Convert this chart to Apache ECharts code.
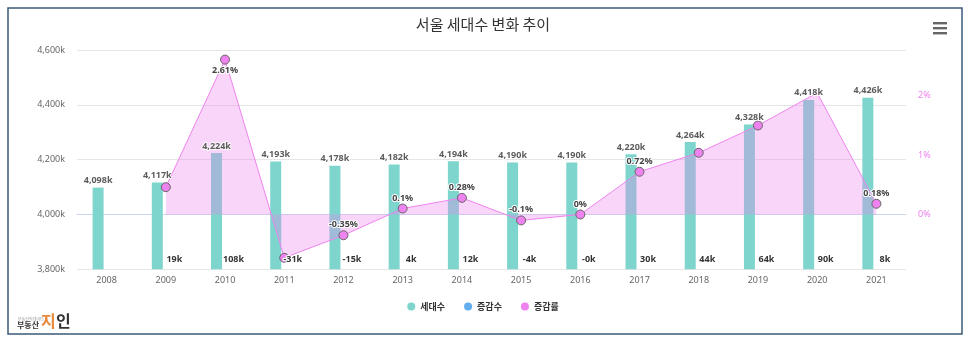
<!DOCTYPE html>
<html>
<head>
<meta charset="utf-8">
<script src="https://cdn.jsdelivr.net/npm/echarts@6/dist/echarts.min.js"></script>
<style>
html,body{margin:0;padding:0;background:#fff;}
#chart{width:966px;height:342px;}
</style>
</head>
<body>
<div id="chart"></div>
<script>
const years = ['2008','2009','2010','2011','2012','2013','2014','2015','2016','2017','2018','2019','2020','2021'];
const households = [4098, 4117, 4224, 4193, 4178, 4182, 4194, 4190, 4190, 4220, 4264, 4328, 4418, 4426];
const changes = [null, 19, 108, -31, -15, 4, 12, -4, -0.2, 30, 44, 64, 90, 8];
const rates = [null, 0.46, 2.61, -0.73, -0.35, 0.1, 0.28, -0.1, 0, 0.72, 1.04, 1.5, 2.05, 0.18];
const leftTicks = [3800, 4000, 4200, 4400, 4600];
const rightTicks = [0, 1, 2];
const seriesNames = ['세대수', '증감수', '증감률'];
const titleText = '서울 세대수 변화 추이';

const hiddenRateLabels = [1, 3, 10, 11, 12];
const belowRateLabels = [2];
const hiddenRateMarkers = [12];

const FONT = '"Noto Sans CJK KR", "Noto Sans", sans-serif';
const NUMFONT = '"Noto Sans", "Noto Sans CJK KR", sans-serif';
const TEAL = '#7dd5ce';
const BLUE = '#62adee';
const VIOLET = '#ee82ee';

const rateData = rates.map((v, i) => ({
  value: v === null ? '-' : v,
  symbolSize: hiddenRateMarkers.includes(i) ? 0 : 9,
  label: {
    show: !hiddenRateLabels.includes(i),
    position: belowRateLabels.includes(i) ? 'bottom' : 'top'
  }
}));

const valueLabel = {
  fontSize: 9, fontWeight: 'bold', color: '#333', fontFamily: NUMFONT,
  textBorderColor: '#fff', textBorderWidth: 2
};

const chart = echarts.init(document.getElementById('chart'), null, {renderer: 'canvas'});
chart.setOption({
  animation: false,
  textStyle: {fontFamily: FONT},
  title: {
    text: titleText, left: 'center', top: 17, padding: 0,
    textStyle: {fontSize: 15, fontWeight: 'normal', color: '#333', fontFamily: FONT}
  },
  legend: {
    data: seriesNames, top: 302, left: 'center', padding: 0,
    icon: 'circle', itemWidth: 8, itemHeight: 8, itemGap: 19,
    itemStyle: {borderWidth: 0},
    textStyle: {fontSize: 9, fontWeight: 'bold', color: '#333', fontFamily: FONT}
  },
  grid: {left: 77, right: 60, top: 50, bottom: 72.7, containLabel: false},
  xAxis: {
    type: 'category', data: years,
    axisLine: {lineStyle: {color: '#ccd6eb'}},
    axisTick: {show: false},
    axisLabel: {fontSize: 9, color: '#666', margin: 7, fontFamily: NUMFONT}
  },
  yAxis: [
    {
      type: 'value', min: leftTicks[0], max: leftTicks[leftTicks.length - 1], interval: 200,
      axisLine: {show: false}, axisTick: {show: false},
      axisLabel: {
        fontSize: 9, color: '#666', margin: 12, fontFamily: NUMFONT,
        formatter: v => v.toLocaleString('en-US') + 'k'
      },
      splitLine: {lineStyle: {color: '#e6e6e6'}}
    },
    {
      type: 'value', position: 'right', min: -0.924, max: 2.772,
      axisLine: {show: false}, axisTick: {show: false},
      splitLine: {show: false},
      axisLabel: {
        customValues: rightTicks, fontSize: 9, color: VIOLET, margin: 12, fontFamily: NUMFONT,
        formatter: v => v + '%'
      }
    },
    {type: 'value', show: false, min: 0, max: 1e6}
  ],
  series: [
    {
      name: seriesNames[0], type: 'bar', data: households, yAxisIndex: 0,
      barWidth: 11, barGap: '55%',
      itemStyle: {color: TEAL},
      z: 2
    },
    {
      name: seriesNames[1], type: 'bar', data: changes, yAxisIndex: 2,
      barWidth: 11,
      itemStyle: {color: BLUE},
      label: Object.assign({show: true, position: 'top', distance: 5,
        formatter: p => p.value.toFixed(0) + 'k'}, valueLabel),
      z: 4
    },
    {
      name: seriesNames[2], type: 'line', data: rateData, yAxisIndex: 1,
      symbol: 'circle',
      lineStyle: {color: VIOLET, width: 1},
      itemStyle: {color: VIOLET, borderColor: '#666', borderWidth: 1},
      areaStyle: {color: VIOLET, opacity: 0.33, origin: 'auto'},
      label: Object.assign({distance: 1, formatter: p => p.value + '%'}, valueLabel, {color: '#444'}),
      z: 3
    },
    {
      // value labels of 세대수, kept on top of the area fill
      name: 'labels', type: 'scatter', data: households, yAxisIndex: 0,
      symbol: 'circle', symbolSize: 1, itemStyle: {color: 'rgba(0,0,0,0)'},
      silent: true, legendHoverLink: false,
      label: Object.assign({show: true, position: 'top', distance: 2, offset: [-8.5, 0],
        formatter: p => p.value.toLocaleString('en-US') + 'k'}, valueLabel),
      z: 5
    }
  ],
  graphic: [
    {type: 'rect', shape: {x: 8, y: 8, width: 954, height: 326}, style: {fill: 'none', stroke: '#3d5a78', lineWidth: 1.5}, silent: true},
    {type: 'rect', shape: {x: 933, y: 22, width: 14, height: 2.4}, style: {fill: '#666'}},
    {type: 'rect', shape: {x: 933, y: 27, width: 14, height: 2.4}, style: {fill: '#666'}},
    {type: 'rect', shape: {x: 933, y: 32, width: 14, height: 2.4}, style: {fill: '#666'}},
    {type: 'text', left: 18, top: 317, style: {text: '부동산빅데이터', fontSize: 4, fill: '#999', fontFamily: FONT}},
    {type: 'text', left: 17, top: 321, style: {text: '부동산', fontSize: 8, fontWeight: 'bold', fill: '#333', fontFamily: FONT}},
    {type: 'text', left: 41, top: 313, style: {text: '지', fontSize: 16, fontWeight: 'bold', fill: '#e8893a', fontFamily: FONT}},
    {type: 'text', left: 56, top: 313, style: {text: '인', fontSize: 16, fontWeight: 'bold', fill: '#333', fontFamily: FONT}}
  ]
});
</script>
</body>
</html>
